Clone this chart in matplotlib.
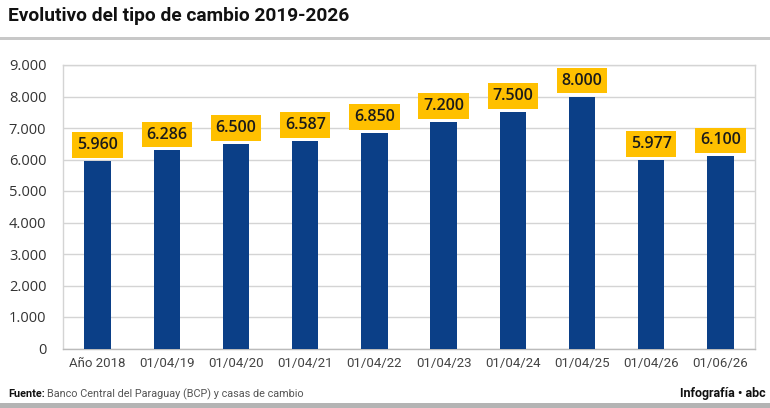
import matplotlib
matplotlib.use("Agg")
import matplotlib.pyplot as plt

categories = ["Año 2018", "01/04/19", "01/04/20", "01/04/21", "01/04/22",
              "01/04/23", "01/04/24", "01/04/25", "01/04/26", "01/06/26"]
values = [5960, 6286, 6500, 6587, 6850, 7200, 7500, 8000, 5977, 6100]
value_labels = ["5.960", "6.286", "6.500", "6.587", "6.850",
                "7.200", "7.500", "8.000", "5.977", "6.100"]
yticks = [0, 1000, 2000, 3000, 4000, 5000, 6000, 7000, 8000, 9000]
ytick_labels = ["0", "1.000", "2.000", "3.000", "4.000", "5.000",
                "6.000", "7.000", "8.000", "9.000"]

cond = "Roboto"
body = "Open Sans"

W, H = 770, 408
fig = plt.figure(figsize=(W/100, H/100), dpi=100)
fig.patch.set_facecolor("white")

def fx(px): return px / W
def fy(py): return 1 - py / H

ax = fig.add_axes([fx(63), fy(348.5), fx(755) - fx(63), fy(65) - fy(348.5)])
x = list(range(len(categories)))
ax.bar(x, values, width=0.38, color="#0b3f87", zorder=3)
ax.set_xlim(-0.5, len(categories) - 0.5)
ax.set_ylim(0, 9000)
ax.set_yticks(yticks)
ax.set_yticklabels(ytick_labels, fontfamily=body, fontsize=10.5, color="#333333")
ax.set_xticks(x)
ax.set_xticklabels(categories, fontfamily=cond, fontsize=9.5, color="#444444")
ax.tick_params(axis="both", length=0)
ax.tick_params(axis="y", pad=12)
ax.tick_params(axis="x", pad=6)
ax.grid(axis="y", color="#d4d4d4", linewidth=1, zorder=0)
for s in ax.spines.values():
    s.set_color("#d4d4d4")
    s.set_linewidth(1)
ax.spines["bottom"].set_color("#bbbbbb")

for xi, v, lab in zip(x, values, value_labels):
    ax.annotate(lab, (xi, v), xytext=(0, 11.5), textcoords="offset points",
                ha="center", va="center", fontfamily=body, fontweight="semibold",
                fontsize=11.5, color="#1a1a1a", zorder=5,
                bbox=dict(boxstyle="square,pad=0.3", fc="#ffc000", ec="none"))

fig.text(fx(8), fy(16), "Evolutivo del tipo de cambio 2019-2026",
         fontfamily=cond, fontweight="bold", fontsize=13.8, color="#111111",
         ha="left", va="center")
fig.add_artist(plt.Rectangle((0, fy(40)), 1, fy(37) - fy(40), transform=fig.transFigure,
                             color="#c8c8c8", lw=0))
fig.add_artist(plt.Rectangle((0, 0), 1, fy(403), transform=fig.transFigure,
                             color="#b4b4b4", lw=0))
t1 = fig.text(fx(8), fy(394), "Fuente:", fontfamily=cond, fontweight="bold",
              fontsize=7.8, color="#111111", ha="left", va="center")
fig.canvas.draw()
bb = t1.get_window_extent()
fig.text(bb.x1 / W + fx(2), fy(394), "Banco Central del Paraguay (BCP) y casas de cambio",
         fontfamily=cond, fontsize=7.8, color="#555555", ha="left", va="center")
fig.text(fx(766), fy(394), "Infografía • abc", fontfamily=cond, fontweight="bold",
         fontsize=9, color="#111111", ha="right", va="center")

fig.savefig("out.png", dpi=100, facecolor="white")
